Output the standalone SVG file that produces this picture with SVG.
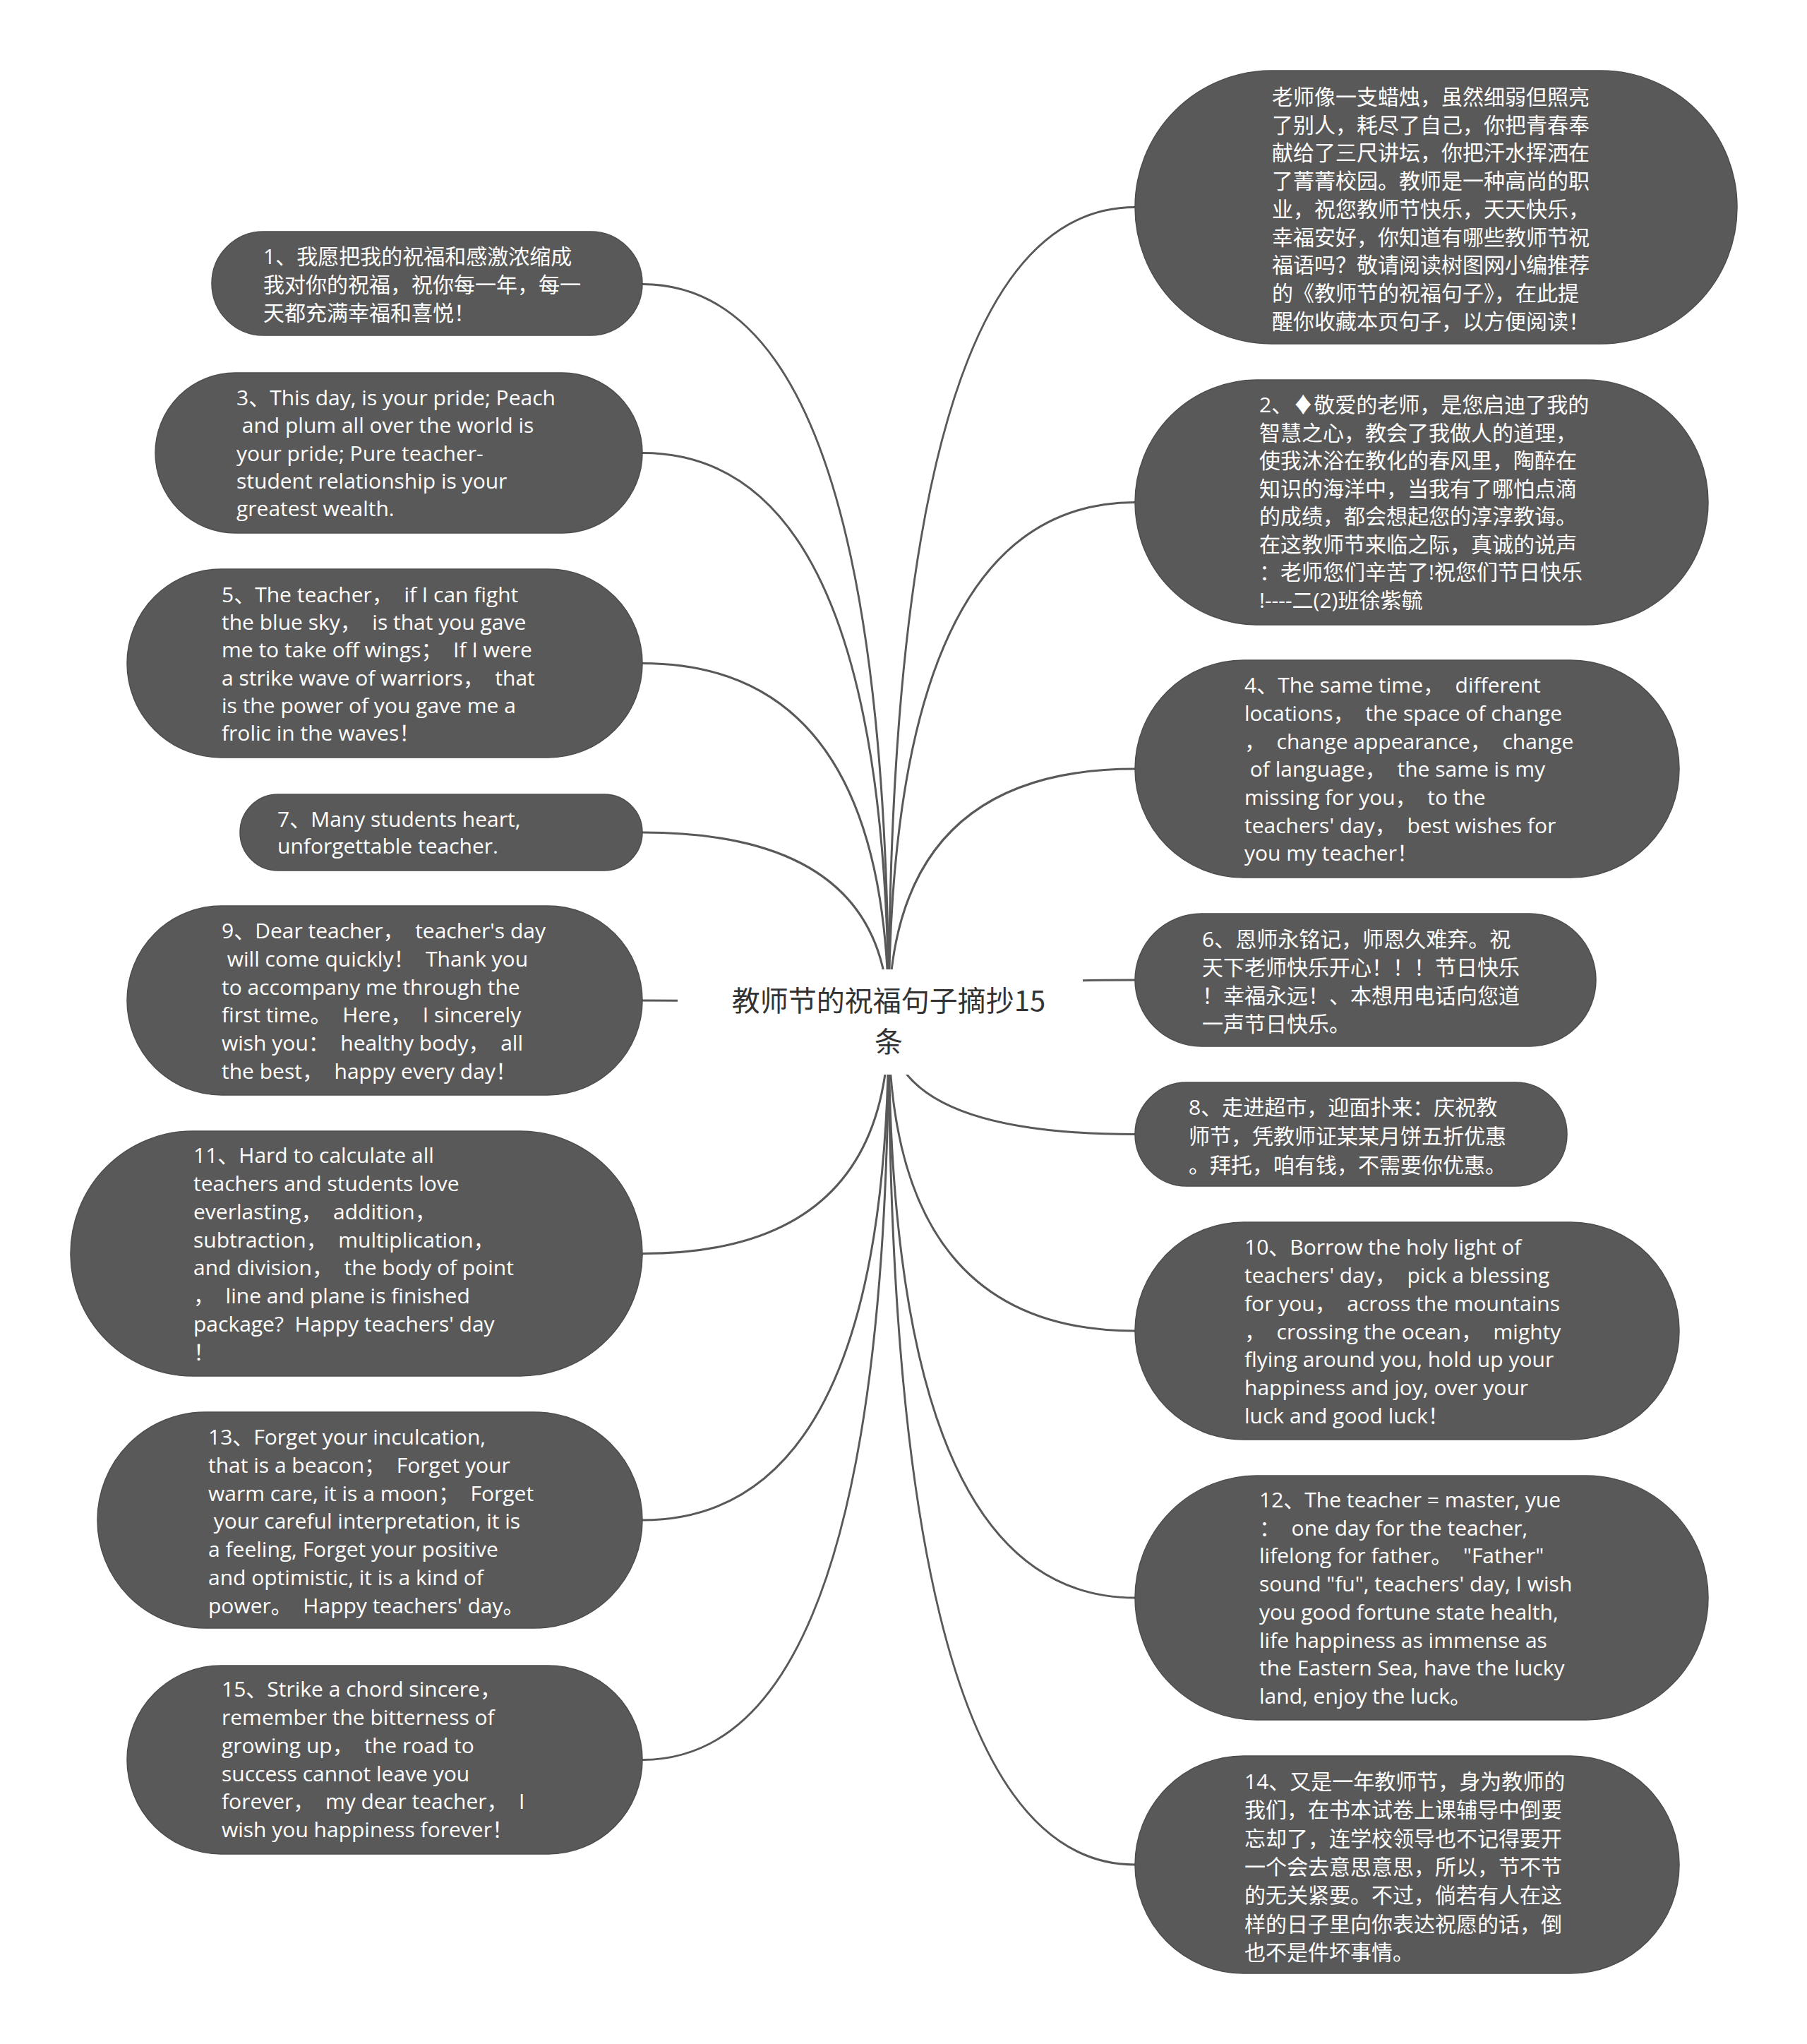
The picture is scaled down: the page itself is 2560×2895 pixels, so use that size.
<svg xmlns="http://www.w3.org/2000/svg" width="2560" height="2895" viewBox="0 0 2560 2895">
<style>
.node rect{fill:#595959;stroke:#4d4d4d;stroke-width:1.5}
.node text{fill:#ffffff;font-family:'Open Sans','Noto Sans CJK SC',sans-serif;font-size:30px}
.conn path{fill:none;stroke:#595959;stroke-width:3}
.title{fill:#333333;font-family:'Noto Sans CJK SC',sans-serif;font-size:40px;text-anchor:middle}
</style>
<rect width="2560" height="2895" fill="#ffffff"/>
<g id="connectors" class="conn">
<path d="M1259 1447 Q1259 402.5 910 402.5"/>
<path d="M1259 1447 Q1259 641.5 910 641.5"/>
<path d="M1259 1447 Q1259 939.5 910 939.5"/>
<path d="M1259 1447 Q1259 1179 910 1179"/>
<path d="M1259 1447 Q1259 1417 910 1417"/>
<path d="M1259 1447 Q1259 1775.5 910 1775.5"/>
<path d="M1259 1447 Q1259 2153 910 2153"/>
<path d="M1259 1447 Q1259 2492.5 910 2492.5"/>
<path d="M1259 1447 Q1259 293.5 1608 293.5"/>
<path d="M1259 1447 Q1259 711.5 1608 711.5"/>
<path d="M1259 1447 Q1259 1089 1608 1089"/>
<path d="M1259 1447 Q1259 1388 1608 1388"/>
<path d="M1259 1447 Q1259 1606.5 1608 1606.5"/>
<path d="M1259 1447 Q1259 1885 1608 1885"/>
<path d="M1259 1447 Q1259 2263 1608 2263"/>
<path d="M1259 1447 Q1259 2641 1608 2641"/>
</g>
<g id="root">
<rect x="960" y="1373" width="574" height="149" fill="#ffffff"/>
<text class="title" x="1259" y="1432">教师节的祝福句子摘抄15</text>
<text class="title" x="1259" y="1490">条</text>
</g>
<g id="n1" class="node"><rect x="300" y="328" width="610" height="147" rx="73.5"/>
<text xml:space="preserve"><tspan x="373" y="374">1、我愿把我的祝福和感激浓缩成</tspan><tspan x="373" y="414">我对你的祝福，祝你每一年，每一</tspan><tspan x="373" y="454">天都充满幸福和喜悦！</tspan></text></g>
<g id="n3" class="node"><rect x="220" y="528" width="690" height="227" rx="113.5"/>
<text xml:space="preserve"><tspan x="335" y="574">3、This day, is your pride; Peach</tspan><tspan x="335" y="613"> and plum all over the world is</tspan><tspan x="335" y="653">your pride; Pure teacher-</tspan><tspan x="335" y="692">student relationship is your</tspan><tspan x="335" y="731">greatest wealth.</tspan></text></g>
<g id="n5" class="node"><rect x="180" y="806" width="730" height="267" rx="133.5"/>
<text xml:space="preserve"><tspan x="314" y="853">5、The teacher，  if I can fight</tspan><tspan x="314" y="892">the blue sky，  is that you gave</tspan><tspan x="314" y="931">me to take off wings；  If I were</tspan><tspan x="314" y="971">a strike wave of warriors，  that</tspan><tspan x="314" y="1010">is the power of you gave me a</tspan><tspan x="314" y="1049">frolic in the waves！</tspan></text></g>
<g id="n7" class="node"><rect x="340" y="1125" width="570" height="108" rx="54"/>
<text xml:space="preserve"><tspan x="393" y="1171">7、Many students heart,</tspan><tspan x="393" y="1209">unforgettable teacher.</tspan></text></g>
<g id="n9" class="node"><rect x="180" y="1283" width="730" height="268" rx="134"/>
<text xml:space="preserve"><tspan x="314" y="1329">9、Dear teacher，  teacher's day</tspan><tspan x="314" y="1369"> will come quickly！  Thank you</tspan><tspan x="314" y="1409">to accompany me through the</tspan><tspan x="314" y="1448">first time。  Here，  I sincerely</tspan><tspan x="314" y="1488">wish you：  healthy body，  all</tspan><tspan x="314" y="1528">the best，  happy every day！</tspan></text></g>
<g id="n11" class="node"><rect x="100" y="1602" width="810" height="347" rx="173.5"/>
<text xml:space="preserve"><tspan x="274" y="1647">11、Hard to calculate all</tspan><tspan x="274" y="1687">teachers and students love</tspan><tspan x="274" y="1727">everlasting，  addition，</tspan><tspan x="274" y="1767">subtraction，  multiplication，</tspan><tspan x="274" y="1806">and division，  the body of point</tspan><tspan x="274" y="1846">，  line and plane is finished</tspan><tspan x="274" y="1886">package?  Happy teachers' day</tspan><tspan x="274" y="1926">！</tspan></text></g>
<g id="n13" class="node"><rect x="138" y="2000" width="772" height="306" rx="153"/>
<text xml:space="preserve"><tspan x="295" y="2046">13、Forget your inculcation,</tspan><tspan x="295" y="2086">that is a beacon；  Forget your</tspan><tspan x="295" y="2126">warm care, it is a moon；  Forget</tspan><tspan x="295" y="2165"> your careful interpretation, it is</tspan><tspan x="295" y="2205">a feeling, Forget your positive</tspan><tspan x="295" y="2245">and optimistic, it is a kind of</tspan><tspan x="295" y="2285">power。  Happy teachers' day。</tspan></text></g>
<g id="n15" class="node"><rect x="180" y="2359" width="730" height="267" rx="133.5"/>
<text xml:space="preserve"><tspan x="314" y="2403">15、Strike a chord sincere，</tspan><tspan x="314" y="2443">remember the bitterness of</tspan><tspan x="314" y="2483">growing up，  the road to</tspan><tspan x="314" y="2523">success cannot leave you</tspan><tspan x="314" y="2562">forever，  my dear teacher，  I</tspan><tspan x="314" y="2602">wish you happiness forever！</tspan></text></g>
<g id="r0" class="node"><rect x="1608" y="100" width="853" height="387" rx="193.5"/>
<text xml:space="preserve"><tspan x="1802" y="148">老师像一支蜡烛，虽然细弱但照亮</tspan><tspan x="1802" y="188">了别人，耗尽了自己，你把青春奉</tspan><tspan x="1802" y="227">献给了三尺讲坛，你把汗水挥洒在</tspan><tspan x="1802" y="267">了菁菁校园。教师是一种高尚的职</tspan><tspan x="1802" y="307">业，祝您教师节快乐，天天快乐，</tspan><tspan x="1802" y="347">幸福安好，你知道有哪些教师节祝</tspan><tspan x="1802" y="386">福语吗？敬请阅读树图网小编推荐</tspan><tspan x="1802" y="426">的《教师节的祝福句子》，在此提</tspan><tspan x="1802" y="466">醒你收藏本页句子，以方便阅读！</tspan></text></g>
<g id="r2" class="node"><rect x="1608" y="538" width="812" height="347" rx="173.5"/>
<text xml:space="preserve"><tspan x="1784" y="584">2、♦敬爱的老师，是您启迪了我的</tspan><tspan x="1784" y="624">智慧之心，教会了我做人的道理，</tspan><tspan x="1784" y="663">使我沐浴在教化的春风里，陶醉在</tspan><tspan x="1784" y="703">知识的海洋中，当我有了哪怕点滴</tspan><tspan x="1784" y="742">的成绩，都会想起您的淳淳教诲。</tspan><tspan x="1784" y="782">在这教师节来临之际，真诚的说声</tspan><tspan x="1784" y="821">：老师您们辛苦了!祝您们节日快乐</tspan><tspan x="1784" y="861">!----二(2)班徐紫毓</tspan></text></g>
<g id="r4" class="node"><rect x="1608" y="935" width="771" height="308" rx="154"/>
<text xml:space="preserve"><tspan x="1763" y="981">4、The same time，  different</tspan><tspan x="1763" y="1021">locations，  the space of change</tspan><tspan x="1763" y="1061">，  change appearance，  change</tspan><tspan x="1763" y="1100"> of language，  the same is my</tspan><tspan x="1763" y="1140">missing for you，  to the</tspan><tspan x="1763" y="1180">teachers' day，  best wishes for</tspan><tspan x="1763" y="1219">you my teacher！</tspan></text></g>
<g id="r6" class="node"><rect x="1608" y="1294" width="653" height="188" rx="94"/>
<text xml:space="preserve"><tspan x="1703" y="1341">6、恩师永铭记，师恩久难弃。祝</tspan><tspan x="1703" y="1381">天下老师快乐开心！！！节日快乐</tspan><tspan x="1703" y="1421">！幸福永远！、本想用电话向您道</tspan><tspan x="1703" y="1461">一声节日快乐。</tspan></text></g>
<g id="r8" class="node"><rect x="1608" y="1533" width="612" height="147" rx="73.5"/>
<text xml:space="preserve"><tspan x="1684" y="1579">8、走进超市，迎面扑来：庆祝教</tspan><tspan x="1684" y="1620">师节，凭教师证某某月饼五折优惠</tspan><tspan x="1684" y="1661">。拜托，咱有钱，不需要你优惠。</tspan></text></g>
<g id="r10" class="node"><rect x="1608" y="1731" width="771" height="308" rx="154"/>
<text xml:space="preserve"><tspan x="1763" y="1777">10、Borrow the holy light of</tspan><tspan x="1763" y="1817">teachers' day，  pick a blessing</tspan><tspan x="1763" y="1857">for you，  across the mountains</tspan><tspan x="1763" y="1897">，  crossing the ocean，  mighty</tspan><tspan x="1763" y="1936">flying around you, hold up your</tspan><tspan x="1763" y="1976">happiness and joy, over your</tspan><tspan x="1763" y="2016">luck and good luck！</tspan></text></g>
<g id="r12" class="node"><rect x="1608" y="2090" width="812" height="346" rx="173"/>
<text xml:space="preserve"><tspan x="1784" y="2135">12、The teacher = master, yue</tspan><tspan x="1784" y="2175">：  one day for the teacher,</tspan><tspan x="1784" y="2214">lifelong for father。  "Father"</tspan><tspan x="1784" y="2254">sound "fu", teachers' day, I wish</tspan><tspan x="1784" y="2294">you good fortune state health,</tspan><tspan x="1784" y="2334">life happiness as immense as</tspan><tspan x="1784" y="2373">the Eastern Sea, have the lucky</tspan><tspan x="1784" y="2413">land, enjoy the luck。</tspan></text></g>
<g id="r14" class="node"><rect x="1608" y="2487" width="771" height="308" rx="154"/>
<text xml:space="preserve"><tspan x="1763" y="2534">14、又是一年教师节，身为教师的</tspan><tspan x="1763" y="2574">我们，在书本试卷上课辅导中倒要</tspan><tspan x="1763" y="2615">忘却了，连学校领导也不记得要开</tspan><tspan x="1763" y="2655">一个会去意思意思，所以，节不节</tspan><tspan x="1763" y="2695">的无关紧要。不过，倘若有人在这</tspan><tspan x="1763" y="2736">样的日子里向你表达祝愿的话，倒</tspan><tspan x="1763" y="2776">也不是件坏事情。</tspan></text></g>
</svg>
